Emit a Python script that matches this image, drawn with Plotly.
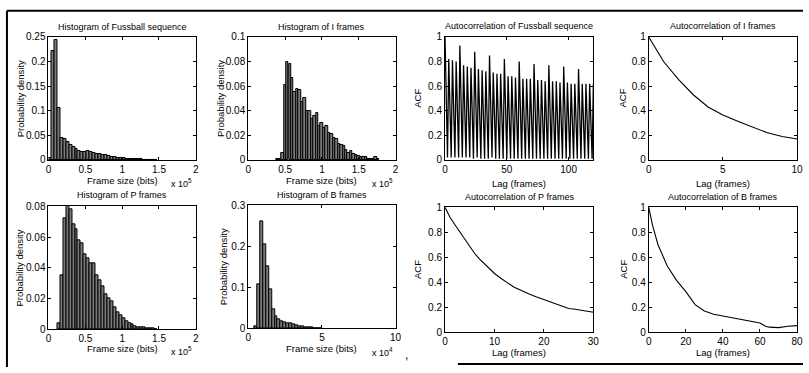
import plotly.graph_objects as go

W, H = 809, 373

# ---------------- data ----------------
# Histogram of Fussball sequence (x in units of 1e5 bits)
fuss_x = [0.02, 0.06, 0.10, 0.14, 0.18, 0.22, 0.26, 0.30, 0.34, 0.38, 0.42, 0.46, 0.50, 0.54,
          0.58, 0.62, 0.66, 0.70, 0.74, 0.78, 0.82, 0.86, 0.90, 0.94, 0.98, 1.02, 1.06, 1.10,
          1.14, 1.18, 1.22, 1.26, 1.30, 1.34, 1.38, 1.42, 1.46]
fuss_y = [0.003, 0.222, 0.243, 0.105, 0.045, 0.042, 0.036, 0.031, 0.027, 0.023, 0.019, 0.016,
          0.017, 0.018, 0.017, 0.015, 0.013, 0.012, 0.011, 0.009, 0.007, 0.006, 0.005, 0.004,
          0.003, 0.003, 0.002, 0.002, 0.0015, 0.001, 0.001, 0.001, 0.0005, 0.0005, 0.0005,
          0.0003, 0.0003]

# Histogram of I frames (x in units of 1e5 bits)
i_x = [0.400, 0.433, 0.467, 0.500, 0.533, 0.567, 0.600, 0.633, 0.667, 0.700, 0.733, 0.767,
       0.800, 0.833, 0.867, 0.900, 0.933, 0.967, 1.000, 1.033, 1.067, 1.100, 1.133, 1.167,
       1.200, 1.233, 1.267, 1.300, 1.333, 1.367, 1.400, 1.433, 1.467, 1.500, 1.533, 1.567,
       1.600, 1.633, 1.667, 1.700, 1.733, 1.767]
i_y = [0.0005, 0.001, 0.006, 0.061, 0.080, 0.078, 0.067, 0.055, 0.058, 0.057, 0.047, 0.050,
       0.040, 0.040, 0.033, 0.036, 0.038, 0.028, 0.030, 0.026, 0.028, 0.022, 0.021, 0.018,
       0.017, 0.013, 0.012, 0.011, 0.008, 0.006, 0.007, 0.005, 0.004, 0.003, 0.002, 0.002,
       0.002, 0.001, 0.0005, 0.001, 0.002, 0.0005]

# Histogram of P frames (x in units of 1e5 bits)
p_x = [0.14, 0.18, 0.22, 0.26, 0.30, 0.34, 0.38, 0.42, 0.46, 0.50, 0.54, 0.58, 0.62, 0.66,
       0.70, 0.74, 0.78, 0.82, 0.86, 0.90, 0.94, 0.98, 1.02, 1.06, 1.10, 1.14, 1.18, 1.22,
       1.26, 1.30, 1.34, 1.38, 1.42, 1.46]
p_y = [0.004, 0.035, 0.072, 0.080, 0.078, 0.068, 0.065, 0.058, 0.056, 0.049, 0.046, 0.043,
       0.043, 0.035, 0.032, 0.028, 0.023, 0.020, 0.018, 0.014, 0.011, 0.009, 0.007, 0.005,
       0.004, 0.003, 0.002, 0.0015, 0.001, 0.001, 0.0005, 0.0005, 0.0003, 0.0002]

# Histogram of B frames (x in units of 1e4 bits)
b_x = [0.5, 0.7, 0.9, 1.1, 1.3, 1.5, 1.7, 1.9, 2.1, 2.3, 2.5, 2.7, 2.9, 3.1, 3.3, 3.5, 3.7,
       3.9, 4.1, 4.3, 4.5, 4.7, 4.9]
b_y = [0.005, 0.107, 0.262, 0.205, 0.152, 0.095, 0.045, 0.030, 0.022, 0.017, 0.015, 0.013,
       0.011, 0.009, 0.007, 0.005, 0.004, 0.003, 0.002, 0.002, 0.001, 0.001, 0.0005]

# Autocorrelation of Fussball sequence: values at lags 0,3,6,...,120 and the two lags between
acf_fuss_peak = [1.00, 0.82, 0.81, 0.80, 0.93, 0.77, 0.76, 0.75, 0.88, 0.74, 0.73, 0.72,
                 0.85, 0.71, 0.70, 0.70, 0.82, 0.68, 0.68, 0.67, 0.80, 0.66, 0.66, 0.66,
                 0.78, 0.65, 0.65, 0.64, 0.77, 0.64, 0.64, 0.63, 0.76, 0.63, 0.62, 0.62,
                 0.74, 0.62, 0.62, 0.62, 0.62]
acf_fuss_gap1 = [0.36, 0.35, 0.35, 0.34, 0.36, 0.34, 0.34, 0.33, 0.35, 0.33, 0.33, 0.33,
                 0.34, 0.33, 0.32, 0.32, 0.34, 0.32, 0.32, 0.32, 0.33, 0.32, 0.31, 0.31,
                 0.33, 0.31, 0.31, 0.31, 0.32, 0.31, 0.31, 0.30, 0.32, 0.30, 0.30, 0.30,
                 0.31, 0.30, 0.30, 0.30]
acf_fuss_gap2 = [0.02, 0.02, 0.02, 0.02, 0.02, 0.02, 0.02, 0.01, 0.02, 0.01, 0.01, 0.01,
                 0.02, 0.01, 0.01, 0.01, 0.01, 0.01, 0.01, 0.01, 0.01, 0.01, 0.01, 0.01,
                 0.01, 0.01, 0.01, 0.01, 0.01, 0.01, 0.01, 0.01, 0.01, 0.01, 0.01, 0.01,
                 0.01, 0.01, 0.01, 0.01]

# Autocorrelation of I frames
acf_i_lag = [0, 1, 2, 3, 4, 5, 6, 7, 8, 9, 10]
acf_i = [1.0, 0.80, 0.655, 0.53, 0.43, 0.365, 0.315, 0.265, 0.22, 0.19, 0.17]

# Autocorrelation of P frames
acf_p_lag = list(range(31))
acf_p = [1.0, 0.92, 0.86, 0.80, 0.74, 0.68, 0.63, 0.585, 0.545, 0.505, 0.47, 0.44, 0.41,
         0.385, 0.36, 0.34, 0.32, 0.305, 0.29, 0.275, 0.26, 0.245, 0.23, 0.215, 0.20, 0.19,
         0.185, 0.18, 0.175, 0.167, 0.16]

# Autocorrelation of B frames
acf_b_lag = [0, 2, 5, 10, 15, 20, 25, 30, 35, 40, 45, 50, 55, 60, 63, 65, 70, 75, 80]
acf_b = [1.0, 0.86, 0.70, 0.53, 0.415, 0.325, 0.22, 0.17, 0.143, 0.13, 0.115, 0.10, 0.09,
         0.073, 0.047, 0.04, 0.036, 0.047, 0.052]

# ---------------- layout helpers ----------------
def px(x):
    return x / W

def py(y):
    return 1 - y / H

FONT = "Liberation Sans, Arial, sans-serif"
fig = go.Figure()

# panels: (left, top, right, bottom) pixel boxes
boxes = [
    (46, 32, 195, 159), (248, 32, 397, 159), (447, 32, 597, 159), (653, 32, 803, 159),
    (46, 207, 195, 334), (248, 206, 397, 333), (447, 208, 597, 337), (653, 208, 803, 337),
]

xranges = [[0, 2], [0, 2], [0, 120], [0, 10], [0, 2], [0, 10], [0, 30], [0, 80]]
xticks = [[0, 0.5, 1, 1.5, 2], [0, 0.5, 1, 1.5, 2], [0, 50, 100], [0, 5, 10],
          [0, 0.5, 1, 1.5, 2], [0, 5, 10], [0, 10, 20, 30], [0, 20, 40, 60, 80]]
yranges = [[0, 0.25], [0, 0.1], [0, 1], [0, 1], [0, 0.08], [0, 0.3], [0, 1], [0, 1]]
yticks = [[0, 0.05, 0.1, 0.15, 0.2, 0.25], [0, 0.02, 0.04, 0.06, 0.08, 0.1],
          [0, 0.2, 0.4, 0.6, 0.8, 1], [0, 0.2, 0.4, 0.6, 0.8, 1],
          [0, 0.02, 0.04, 0.06, 0.08], [0, 0.1, 0.2, 0.3],
          [0, 0.2, 0.4, 0.6, 0.8, 1], [0, 0.2, 0.4, 0.6, 0.8, 1]]

def fmt(v):
    return "%g" % v

for k, (l, t, r, b) in enumerate(boxes):
    n = "" if k == 0 else str(k + 1)
    common = dict(showline=True, linecolor="black", linewidth=1, mirror="ticks",
                  ticks="inside", ticklen=3, tickcolor="black", showgrid=False,
                  zeroline=False, tickfont=dict(family=FONT, size=10, color="black"))
    fig.layout["xaxis" + n] = dict(domain=[px(l), px(r)], anchor="y" + n,
                                   range=xranges[k], tickvals=xticks[k],
                                   ticktext=[fmt(v) for v in xticks[k]], ticklabelstandoff=0,
                                   **common)
    fig.layout["yaxis" + n] = dict(domain=[py(b), py(t)], anchor="x" + n,
                                   range=yranges[k], tickvals=yticks[k],
                                   ticktext=[fmt(v) for v in yticks[k]], **common)

bar_style = dict(marker=dict(color="#7a7a7a", line=dict(color="black", width=1)),
                 showlegend=False)
fig.add_trace(go.Bar(x=fuss_x, y=fuss_y, width=0.04, xaxis="x", yaxis="y", **bar_style))
fig.add_trace(go.Bar(x=i_x, y=i_y, width=1 / 30, xaxis="x2", yaxis="y2", **bar_style))

# Fussball ACF assembled from the listed values
fl, fv = [], []
for j, pk in enumerate(acf_fuss_peak):
    fl.append(3 * j); fv.append(pk)
    if j < len(acf_fuss_gap1):
        fl += [3 * j + 1, 3 * j + 2]; fv += [acf_fuss_gap1[j], acf_fuss_gap2[j]]
line_style = dict(mode="lines", line=dict(color="black", width=1.1), showlegend=False)
fig.add_trace(go.Scatter(x=fl, y=fv, xaxis="x3", yaxis="y3", mode="lines",
                         line=dict(color="black", width=1.3), showlegend=False))
fig.add_trace(go.Scatter(x=acf_i_lag, y=acf_i, xaxis="x4", yaxis="y4", **line_style))
fig.add_trace(go.Bar(x=p_x, y=p_y, width=0.04, xaxis="x5", yaxis="y5", **bar_style))
fig.add_trace(go.Bar(x=b_x, y=b_y, width=0.2, xaxis="x6", yaxis="y6", **bar_style))
fig.add_trace(go.Scatter(x=acf_p_lag, y=acf_p, xaxis="x7", yaxis="y7", **line_style))
fig.add_trace(go.Scatter(x=acf_b_lag, y=acf_b, xaxis="x8", yaxis="y8", **line_style))

titles = ["Histogram of Fussball sequence", "Histogram of I frames",
          "Autocorrelation of Fussball sequence", "Autocorrelation of I frames",
          "Histogram of P frames", "Histogram of B frames",
          "Autocorrelation of P frames", "Autocorrelation of B frames"]
title_y = [22, 22, 21, 21, 195, 195, 197, 197]
xlabels = ["Frame size (bits)", "Frame size (bits)", "Lag (frames)", "Lag (frames)",
           "Frame size (bits)", "Frame size (bits)", "Lag (frames)", "Lag (frames)"]
xlabel_y = [180, 180, 183, 183, 354, 354, 358, 358]
ylabels = ["Probability density", "Probability density", "ACF", "ACF",
           "Probability density", "Probability density", "ACF", "ACF"]
ylabel_x = [18, 220, 419, 626, 17, 223, 419, 628]
multipliers = [("5", 181, 183), ("5", 384, 183), None, None,
               ("5", 181, 356), ("4", 384, 357), None, None]

ann = []
for k, (l, t, r, b) in enumerate(boxes):
    cx = (l + r) / 2
    ann.append(dict(text=titles[k], x=px(cx), y=py(title_y[k]), xref="paper", yref="paper",
                    showarrow=False, font=dict(family=FONT, size=9, color="black"),
                    xanchor="center", yanchor="middle"))
    ann.append(dict(text=xlabels[k], x=px(cx), y=py(xlabel_y[k]), xref="paper", yref="paper",
                    showarrow=False, font=dict(family=FONT, size=9.5, color="black"),
                    xanchor="center", yanchor="middle"))
    ann.append(dict(text=ylabels[k], x=px(ylabel_x[k]), y=py((t + b) / 2), xref="paper",
                    yref="paper", showarrow=False, textangle=-90,
                    font=dict(family=FONT, size=9.5, color="black"),
                    xanchor="center", yanchor="middle"))
    if multipliers[k]:
        e, mx, my = multipliers[k]
        ann.append(dict(text="x 10<sup>%s</sup>" % e, x=px(mx), y=py(my), xref="paper",
                        yref="paper", showarrow=False,
                        font=dict(family=FONT, size=9, color="black"),
                        xanchor="center", yanchor="middle"))
ann.append(dict(text=",", x=px(408), y=py(361), xref="paper", yref="paper", showarrow=False,
                font=dict(family=FONT, size=12, color="black"), xanchor="center",
                yanchor="middle"))

shapes = [
    dict(type="line", xref="paper", yref="paper", x0=px(4), x1=px(809), y0=py(5), y1=py(5),
         line=dict(color="black", width=2)),
    dict(type="line", xref="paper", yref="paper", x0=px(4), x1=px(4), y0=py(5), y1=py(373),
         line=dict(color="black", width=2)),
    dict(type="line", xref="paper", yref="paper", x0=px(460), x1=px(809), y0=py(370),
         y1=py(370), line=dict(color="black", width=2)),
]

fig.update_layout(width=W, height=H, margin=dict(l=0, r=0, t=0, b=0),
                  paper_bgcolor="white", plot_bgcolor="white", bargap=0,
                  annotations=ann, shapes=shapes, showlegend=False,
                  font=dict(family=FONT, color="black"))

fig.write_html("out.html")
